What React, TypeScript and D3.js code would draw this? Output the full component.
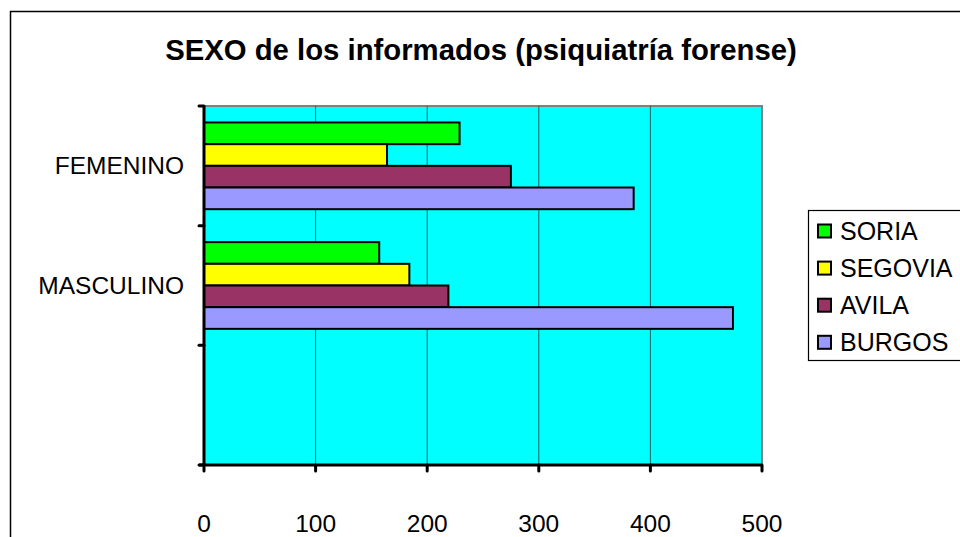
import React from "react";
import * as d3 from "d3";

const title = "SEXO de los informados (psiquiatría forense)";
const categories = ["FEMENINO", "MASCULINO", ""];
const seriesNames = ["SORIA", "SEGOVIA", "AVILA", "BURGOS"];
const seriesColors = ["#00FF00", "#FFFF00", "#993366", "#9999FF"];
const soria = [229, 157];
const segovia = [164, 184];
const avila = [275, 219];
const burgos = [385, 474];
const seriesValues = [soria, segovia, avila, burgos];
const xTicks = [0, 100, 200, 300, 400, 500];

const W = 960;
const H = 537;
const plot = { left: 204, right: 762, top: 106, bottom: 465 };
const FONT = "Liberation Sans, Arial, Helvetica, sans-serif";

export default function App() {
  const x = d3.scaleLinear().domain([0, 500]).range([plot.left, plot.right]);
  const y = d3
    .scaleBand<string>()
    .domain(categories.map((c, i) => String(i)))
    .range([plot.top, plot.bottom])
    .paddingInner(0)
    .paddingOuter(0);
  const inner = d3
    .scaleBand<string>()
    .domain(seriesNames)
    .range([0, y.bandwidth()])
    .paddingInner(0)
    .paddingOuter(0.76);

  return (
    <svg
      width={W}
      height={H}
      style={{ position: "absolute", left: 0, top: 0, background: "#fff" }}
      fontFamily={FONT}
    >
      {/* outer chart border */}
      <rect x={10.5} y={11.5} width={1000} height={600} fill="#fff" stroke="#000" strokeWidth={1.5} />
      <text x={481} y={60} textAnchor="middle" fontSize={29.3} fontWeight="bold" fill="#000">
        {title}
      </text>

      {/* plot area */}
      <rect
        x={plot.left}
        y={plot.top}
        width={plot.right - plot.left}
        height={plot.bottom - plot.top}
        fill="#00FFFF"
      />
      <path
        d={`M${plot.left},${plot.top} H${plot.right} V${plot.bottom}`}
        fill="none"
        stroke="#808080"
        strokeWidth={2}
      />
      {xTicks.slice(1, -1).map((t) => (
        <line key={t} x1={x(t)} x2={x(t)} y1={plot.top} y2={plot.bottom} stroke="#006666" strokeWidth={1} />
      ))}

      {/* bars */}
      {categories.map((c, ci) =>
        seriesNames.map((s, si) => {
          const v = seriesValues[si][ci];
          if (v === undefined) return null;
          const y0 = (y(String(ci)) as number) + (inner(s) as number);
          return (
            <rect
              key={c + s}
              x={x(0)}
              y={y0}
              width={x(v) - x(0)}
              height={inner.bandwidth()}
              fill={seriesColors[si]}
              stroke="#000"
              strokeWidth={2}
            />
          );
        })
      )}

      {/* y axis */}
      <line x1={plot.left} x2={plot.left} y1={plot.top} y2={plot.bottom} stroke="#000" strokeWidth={3} />
      {categories.concat(["end"]).map((_, i) => {
        const ty = i < categories.length ? (y(String(i)) as number) : plot.bottom;
        return (
          <line key={i} x1={plot.left - 5} x2={plot.left} y1={ty} y2={ty} stroke="#000" strokeWidth={3} strokeLinecap="round" />
        );
      })}
      {categories.map((c, i) => (
        <text
          key={i}
          x={184}
          y={(y(String(i)) as number) + y.bandwidth() / 2}
          dy="0.35em"
          textAnchor="end"
          fontSize={24.5}
          fill="#000"
        >
          {c}
        </text>
      ))}

      {/* x axis */}
      <line x1={plot.left - 5} x2={plot.right} y1={plot.bottom} y2={plot.bottom} stroke="#000" strokeWidth={3} />
      {xTicks.map((t) => (
        <g key={t}>
          <line x1={x(t)} x2={x(t)} y1={plot.bottom} y2={plot.bottom + 6} stroke="#000" strokeWidth={3} strokeLinecap="round" />
          <text x={x(t)} y={532} textAnchor="middle" fontSize={24.5} fill="#000">
            {t}
          </text>
        </g>
      ))}

      {/* legend */}
      <rect x={808.5} y={210.5} width={200} height={150} fill="#fff" stroke="#000" strokeWidth={1.2} />
      {seriesNames.map((s, i) => {
        const cy = 231 + i * 37.1;
        return (
          <g key={s}>
            <rect x={818} y={cy - 6.5} width={13} height={13} fill={seriesColors[i]} stroke="#000" strokeWidth={2} />
            <text x={840} y={cy} dy="0.35em" fontSize={25} fill="#000">
              {s}
            </text>
          </g>
        );
      })}
    </svg>
  );
}
